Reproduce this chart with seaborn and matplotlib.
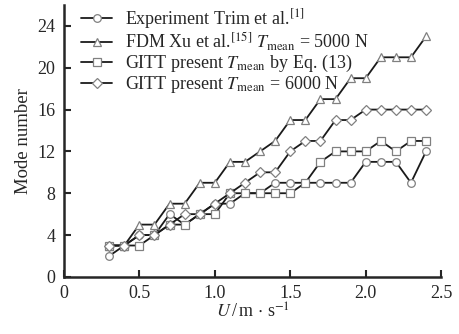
import seaborn as sns
import matplotlib.pyplot as plt
import pandas as pd
import numpy as np

# flow speed U (m/s)
U = [0.3, 0.4, 0.5, 0.6, 0.7, 0.8, 0.9, 1.0, 1.1, 1.2, 1.3,
     1.4, 1.5, 1.6, 1.7, 1.8, 1.9, 2.0, 2.1, 2.2, 2.3, 2.4]

# mode numbers
exp_trim  = [2, 3, 4, 4, 6, 5, 6, 7, 7, 8, 8, 9, 9, 9, 9, 9, 9, 11, 11, 11, 9, 12]
fdm_xu    = [3, 3, 5, 5, 7, 7, 9, 9, 11, 11, 12, 13, 15, 15, 17, 17, 19, 19, 21, 21, 21, 23]
gitt_eq13 = [3, 3, 3, 4, 5, 5, 6, 6, 8, 8, 8, 8, 8, 9, 11, 12, 12, 12, 13, 12, 13, 13]
gitt_6000 = [3, 3, 4, 4, 5, 6, 6, 7, 8, 9, 10, 10, 12, 13, 13, 15, 15, 16, 16, 16, 16, 16]

labels = [r"Experiment Trim et al.$^{[1]}$",
          r"FDM Xu et al.$^{[15]}$ $T_{\rm mean}$ = 5000 N",
          r"GITT present $T_{\rm mean}$ by Eq. (13)",
          r"GITT present $T_{\rm mean}$ = 6000 N"]
series = [exp_trim, fdm_xu, gitt_eq13, gitt_6000]
markers = ["o", "^", "s", "D"]

sns.set_style("ticks")
plt.rcParams["font.family"] = ["Liberation Serif", "DejaVu Serif"]
plt.rcParams["mathtext.fontset"] = "stix"

fig = plt.figure(figsize=(4.6, 3.34), dpi=100)
ax = fig.add_axes([0.139, 0.171, 0.82, 0.814])

for lab, vals, mk in zip(labels, series, markers):
    df = pd.DataFrame({"U": U, "mode": vals})
    sns.lineplot(data=df, x="U", y="mode", ax=ax, label=lab,
                 color="#1a1a1a", linewidth=1.3, marker=mk,
                 markersize=5.5 if mk != "D" else 5,
                 markerfacecolor="white", markeredgecolor="#808080",
                 markeredgewidth=0.9)

ax.set_xlim(0, 2.5)
ax.set_ylim(0, 26)
ax.set_xticks([0, 0.5, 1.0, 1.5, 2.0, 2.5])
ax.set_xticklabels(["0", "0.5", "1.0", "1.5", "2.0", "2.5"])
ax.set_yticks(np.arange(0, 25, 4))
ax.tick_params(direction="in", length=5, width=1.5, labelsize=13, pad=6)
for s in ["left", "bottom"]:
    ax.spines[s].set_linewidth(1.8)
sns.despine(ax=ax)

ax.set_xlabel(r"$U\,$/$\,$m$\,\cdot\,$s$^{-1}$", fontsize=13, labelpad=0)
ax.set_ylabel("Mode number", fontsize=13.5, labelpad=4)

ax.legend(loc="upper left", frameon=False, fontsize=13, handlelength=1.75,
          handletextpad=0.7, labelspacing=0.0, borderaxespad=0.0,
          borderpad=0.1, bbox_to_anchor=(0.04, 1.0))

fig.savefig("out.png", dpi=100)
